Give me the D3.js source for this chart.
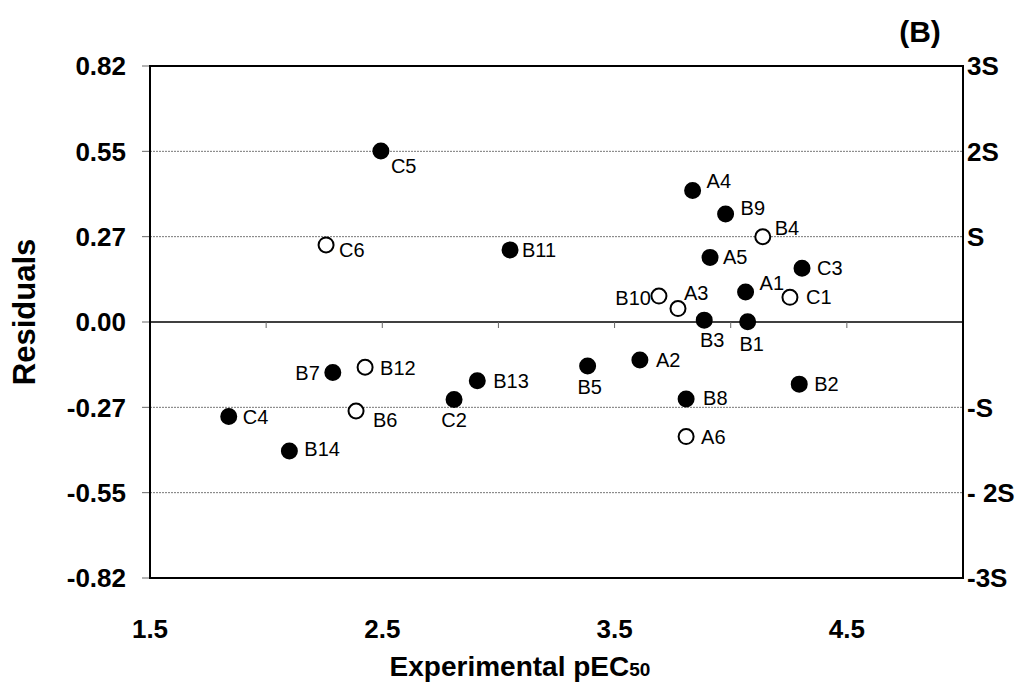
<!DOCTYPE html>
<html>
<head>
<meta charset="utf-8">
<script src="https://cdn.jsdelivr.net/npm/d3@7"></script>
<style>
  html, body { margin: 0; padding: 0; background: #fff; }
  svg { display: block; font-family: "Liberation Sans", Arial, sans-serif; }
</style>
</head>
<body>
<svg id="chart" width="1024" height="699"></svg>
<script>
// ---- data ----
const compounds = ["C5","C6","B11","A4","B9","B4","A5","C3","A1","C1","B10","A3","B3","B1",
                   "B5","A2","B2","B8","A6","B7","B12","B6","C4","B14","C2","B13"];
const pEC50 = [2.494,2.258,3.050,3.836,3.978,4.138,3.911,4.307,4.064,4.255,3.691,3.773,3.886,4.073,
               3.384,3.609,4.295,3.808,3.808,2.287,2.426,2.387,1.839,2.100,2.809,2.909];
const residuals = [0.548,0.247,0.231,0.421,0.346,0.273,0.207,0.172,0.096,0.079,0.083,0.043,0.006,0.001,
                   -0.141,-0.122,-0.199,-0.247,-0.367,-0.162,-0.145,-0.285,-0.303,-0.413,-0.248,-0.188];
const openSet = ["C6","B4","C1","B10","A3","A6","B12","B6"];   // hollow markers
const xTickValues = [1.5,2.0,2.5,3.0,3.5,4.0,4.5,5.0];
const xTickLabels = ["1.5","","2.5","","3.5","","4.5",""];
const S = 0.82 / 3;
const yTickMultiples = [-3,-2,-1,0,1,2,3];
const yTickLabels = ["-0.82","-0.55","-0.27","0.00","0.27","0.55","0.82"];
const sigmaLabels = ["-3S","- 2S","-S","","S","2S","3S"];

// ---- label placement (layout only) ----
const labelLayout = {
  C5:[10,15,"start"], C6:[13,5,"start"], B11:[12,0,"start"], A4:[14,-10,"start"],
  B9:[15,-6,"start"], B4:[12,-9,"start"], A5:[13,0,"start"], C3:[15,0,"start"],
  A1:[14,-9,"start"], C1:[16,0,"start"], B10:[-8,2,"end"], A3:[6,-16,"start"],
  B3:[8,20,"middle"], B1:[4,22,"middle"], B5:[2,21,"middle"], A2:[16,0,"start"],
  B2:[15,0,"start"], B8:[17,-1,"start"], A6:[15,0,"start"], B7:[-13,0,"end"],
  B12:[15,1,"start"], B6:[17,9,"start"], C4:[14,0,"start"], B14:[15,-2,"start"],
  C2:[0,21,"middle"], B13:[16,0,"start"]
};

const svg = d3.select("#chart");
const L = 150, R = 963, T = 66, B = 578;
const x = d3.scaleLinear().domain([1.5, 5.0]).range([L, R]);
const y = d3.scaleLinear().domain([-0.82, 0.82]).range([B, T]);

// gridlines at ±S, ±2S
svg.append("g").selectAll("line")
  .data(yTickMultiples.filter(k => Math.abs(k) === 1 || Math.abs(k) === 2))
  .join("line")
  .attr("x1", L).attr("x2", R)
  .attr("y1", d => y(d * S)).attr("y2", d => y(d * S))
  .attr("stroke", "#777").attr("stroke-width", 1)
  .attr("stroke-dasharray", "2,1");

// zero line with x ticks
svg.append("line").attr("x1", L).attr("x2", R).attr("y1", y(0)).attr("y2", y(0))
  .attr("stroke", "#000").attr("stroke-width", 1.5);
svg.append("g").selectAll("line")
  .data(xTickValues.slice(1, -1))
  .join("line")
  .attr("x1", d => x(d)).attr("x2", d => x(d))
  .attr("y1", y(0)).attr("y2", y(0) + 6)
  .attr("stroke", "#666").attr("stroke-width", 1);

// left ticks
svg.append("g").selectAll("line")
  .data(yTickMultiples)
  .join("line")
  .attr("x1", L - 8).attr("x2", L)
  .attr("y1", d => y(d * S)).attr("y2", d => y(d * S))
  .attr("stroke", "#666").attr("stroke-width", 1);

// plot frame
svg.append("rect").attr("x", L).attr("y", T).attr("width", R - L).attr("height", B - T)
  .attr("fill", "none").attr("stroke", "#000").attr("stroke-width", 2);

// y tick labels
svg.append("g").selectAll("text")
  .data(yTickMultiples)
  .join("text")
  .attr("x", 126).attr("y", d => y(d * S))
  .attr("dy", "0.36em").attr("text-anchor", "end")
  .attr("font-size", 26).attr("font-weight", "bold")
  .text((d, i) => yTickLabels[i]);

// right sigma labels
svg.append("g").selectAll("text")
  .data(yTickMultiples)
  .join("text")
  .attr("x", 967).attr("y", d => y(d * S))
  .attr("dy", "0.36em").attr("text-anchor", "start")
  .attr("font-size", 26).attr("font-weight", "bold")
  .text((d, i) => sigmaLabels[i]);

// x tick labels
svg.append("g").selectAll("text")
  .data(xTickValues)
  .join("text")
  .attr("x", d => x(d)).attr("y", 638)
  .attr("text-anchor", "middle")
  .attr("font-size", 26).attr("font-weight", "bold")
  .text((d, i) => xTickLabels[i]);

// axis titles
const xt = svg.append("text").attr("x", 520).attr("y", 676).attr("text-anchor", "middle")
  .attr("font-size", 28).attr("font-weight", "bold");
xt.append("tspan").text("Experimental pEC");
xt.append("tspan").attr("font-size", 19).text("50");

svg.append("text").attr("transform", "translate(35,312) rotate(-90)")
  .attr("text-anchor", "middle").attr("font-size", 31).attr("font-weight", "bold")
  .text("Residuals");

// panel label
svg.append("text").attr("x", 920).attr("y", 42).attr("text-anchor", "middle")
  .attr("font-size", 30).attr("font-weight", "bold").text("(B)");

// points
const pts = compounds.map((c, i) => ({ name: c, px: pEC50[i], r: residuals[i], open: openSet.includes(c) }));
svg.append("g").selectAll("circle")
  .data(pts)
  .join("circle")
  .attr("cx", d => x(d.px)).attr("cy", d => y(d.r)).attr("r", 7.5)
  .attr("fill", d => d.open ? "#fff" : "#000")
  .attr("stroke", "#000").attr("stroke-width", 2);

// point labels
svg.append("g").selectAll("text")
  .data(pts)
  .join("text")
  .attr("x", d => x(d.px) + labelLayout[d.name][0])
  .attr("y", d => y(d.r) + labelLayout[d.name][1])
  .attr("dy", "0.35em")
  .attr("text-anchor", d => labelLayout[d.name][2])
  .attr("font-size", 20)
  .text(d => d.name);
</script>
</body>
</html>
